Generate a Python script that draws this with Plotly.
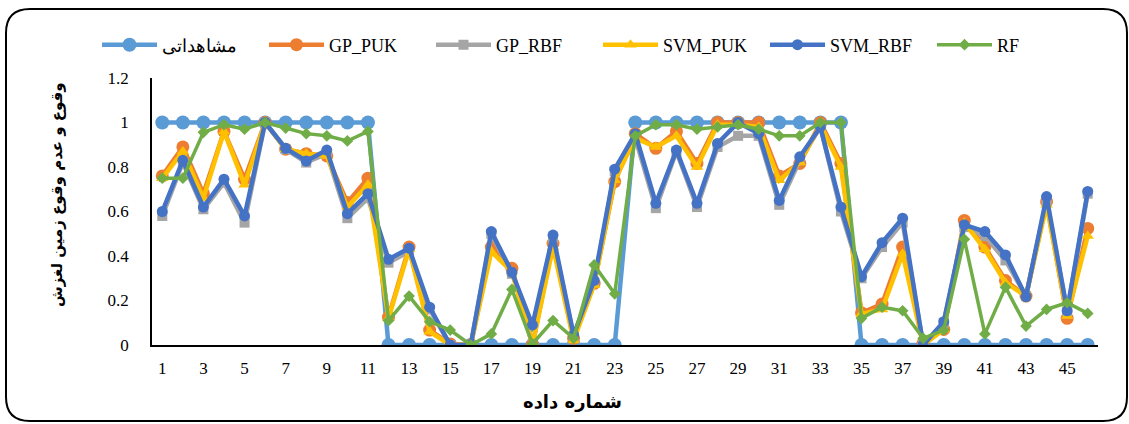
import plotly.graph_objects as go

x = list(range(1, 47))
observed = [1]*11 + [0]*12 + [1]*11 + [0]*12
gp_puk = [0.76, 0.89, 0.68, 0.96, 0.745, 1.0, 0.88, 0.86, 0.85, 0.64, 0.75, 0.125,
          0.44, 0.067, 0.005, 0.0, 0.44, 0.345, 0.0, 0.457, 0.03, 0.277, 0.734,
          0.95, 0.884, 0.96, 0.816, 1.0, 1.0, 1.0, 0.76, 0.816, 1.0, 0.816,
          0.145, 0.184, 0.44, 0.01, 0.07, 0.56, 0.44, 0.29, 0.22, 0.644, 0.12, 0.524]
gp_rbf = [0.58, 0.82, 0.61, 0.73, 0.55, 1.0, 0.88, 0.82, 0.86, 0.57, 0.66, 0.37,
          0.42, 0.16, 0.0, 0.0, 0.5, 0.32, 0.08, 0.48, 0.04, 0.28, 0.78,
          0.93, 0.615, 0.87, 0.62, 0.89, 0.94, 0.94, 0.63, 0.83, 0.98, 0.60,
          0.30, 0.44, 0.55, 0.0, 0.10, 0.53, 0.49, 0.38, 0.22, 0.65, 0.15, 0.68]
svm_puk = [0.75, 0.87, 0.66, 0.96, 0.72, 1.0, 0.88, 0.86, 0.85, 0.62, 0.72, 0.12,
           0.43, 0.06, 0.0, 0.0, 0.42, 0.33, 0.0, 0.44, 0.02, 0.27, 0.74,
           0.93, 0.89, 0.94, 0.80, 0.99, 0.99, 0.98, 0.74, 0.82, 0.99, 0.80,
           0.14, 0.16, 0.41, 0.0, 0.07, 0.55, 0.43, 0.28, 0.22, 0.63, 0.13, 0.49]
svm_rbf = [0.60, 0.83, 0.62, 0.745, 0.58, 1.0, 0.884, 0.827, 0.876, 0.59, 0.68, 0.385,
           0.435, 0.17, 0.0, 0.0, 0.51, 0.327, 0.09, 0.494, 0.045, 0.29, 0.79,
           0.95, 0.637, 0.876, 0.637, 0.906, 1.0, 0.95, 0.65, 0.846, 0.98, 0.62,
           0.307, 0.46, 0.57, 0.0, 0.105, 0.54, 0.51, 0.405, 0.217, 0.667, 0.154, 0.69]
rf = [0.75, 0.75, 0.956, 0.99, 0.97, 1.0, 0.975, 0.95, 0.94, 0.917, 0.96, 0.11,
      0.22, 0.105, 0.067, 0.0, 0.05, 0.25, 0.005, 0.11, 0.03, 0.36, 0.23,
      0.94, 0.99, 0.99, 0.97, 0.98, 0.99, 0.97, 0.94, 0.94, 1.0, 1.0,
      0.12, 0.17, 0.154, 0.03, 0.067, 0.475, 0.05, 0.26, 0.085, 0.16, 0.19, 0.142]

series = [
    ("مشاهداتی", observed, "#5B9BD5", "circle", 14, 4.5),
    ("GP_PUK", gp_puk, "#ED7D31", "circle", 13, 4.5),
    ("GP_RBF", gp_rbf, "#A5A5A5", "square", 10, 4.5),
    ("SVM_PUK", svm_puk, "#FFC000", "triangle-up", 11, 4.5),
    ("SVM_RBF", svm_rbf, "#4472C4", "circle", 11, 4.5),
    ("RF", rf, "#70AD47", "diamond", 9, 3.5),
]

fig = go.Figure()
for name, vals, color, sym, msize, lw in series:
    fig.add_trace(go.Scatter(
        x=x, y=vals, name=name, mode="lines+markers",
        line=dict(color=color, width=lw),
        marker=dict(color=color, symbol=sym, size=msize, line=dict(width=0)),
    ))

serif = "Liberation Serif"
L, R, T, B = 152, 1098, 78, 345
PW, PH = R - L, B - T


def px2x(p):
    return (p - L) / PW


def py2y(p):
    return (B - p) / PH


fig.update_layout(
    width=1129, height=424,
    margin=dict(l=L, r=1129 - R, t=T, b=424 - B, autoexpand=False),
    paper_bgcolor="white", plot_bgcolor="white",
    font=dict(family=serif, size=17, color="black"),
    showlegend=True,
    legend=dict(orientation="h", xref="paper", yref="paper",
                x=px2x(97), xanchor="left", y=py2y(45), yanchor="middle",
                font=dict(family=serif, size=18, color="black"),
                itemwidth=55, entrywidth=97, entrywidthmode="pixels",
                tracegroupgap=0, bgcolor="rgba(0,0,0,0)"),
    xaxis=dict(range=[0.5, 46.5], tickmode="array", automargin=False,
               tickvals=list(range(1, 47, 2)), ticktext=[str(v) for v in range(1, 47, 2)],
               showgrid=False, zeroline=False, showline=True, linecolor="black", linewidth=1.5,
               ticks="", ticklabelstandoff=7,
               tickfont=dict(family=serif, size=17)),
    yaxis=dict(range=[0, 1.2], tickmode="array", automargin=False,
               tickvals=[0, 0.2, 0.4, 0.6, 0.8, 1.0, 1.2],
               ticktext=["0", "0.2", "0.4", "0.6", "0.8", "1", "1.2"],
               showgrid=False, zeroline=False, showline=True, linecolor="black", linewidth=1.5,
               ticks="", ticklabelstandoff=18,
               tickfont=dict(family=serif, size=17)),
)

# axis titles
fig.add_annotation(text="<b>شماره داده</b>", xref="paper", yref="paper",
                   x=px2x(572), y=py2y(401), xanchor="center", yanchor="middle",
                   showarrow=False, font=dict(family="DejaVu Sans", size=18, color="black"))
fig.add_annotation(text="<b>وقوع و عدم وقوع زمین لغزش</b>", xref="paper", yref="paper",
                   x=px2x(57), y=py2y(195), xanchor="center", yanchor="middle", textangle=-90,
                   showarrow=False, font=dict(family="DejaVu Sans", size=15, color="black"))

# rounded border around the whole chart
x0, x1, y0, y1, r = 6, 1127, 9, 421, 24
path = (f"M {px2x(x0 + r)} {py2y(y0)} L {px2x(x1 - r)} {py2y(y0)} "
        f"Q {px2x(x1)} {py2y(y0)} {px2x(x1)} {py2y(y0 + r)} "
        f"L {px2x(x1)} {py2y(y1 - r)} Q {px2x(x1)} {py2y(y1)} {px2x(x1 - r)} {py2y(y1)} "
        f"L {px2x(x0 + r)} {py2y(y1)} Q {px2x(x0)} {py2y(y1)} {px2x(x0)} {py2y(y1 - r)} "
        f"L {px2x(x0)} {py2y(y0 + r)} Q {px2x(x0)} {py2y(y0)} {px2x(x0 + r)} {py2y(y0)} Z")
fig.add_shape(type="path", path=path, xref="paper", yref="paper",
              line=dict(color="black", width=2), layer="below")

fig.write_html("out.html", config={"displayModeBar": False},
               post_script="document.body.style.margin='0px';document.body.style.padding='0px';")
